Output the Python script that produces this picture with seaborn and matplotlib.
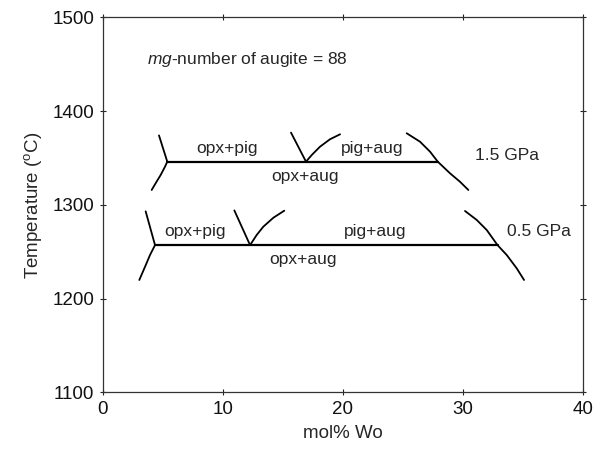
import pandas as pd
import matplotlib
matplotlib.use("Agg")
import matplotlib.pyplot as plt
import seaborn as sns

# values (x = mol% Wo, y = temperature in C)
tie_15_x = [5.38, 27.92]
tie_15_y = [1346, 1346]
tie_05_x = [4.36, 32.9]
tie_05_y = [1257, 1257]

# 1.5 GPa boundaries
b15_left_up_x = [4.69, 5.38]
b15_left_up_y = [1374, 1346]
b15_left_lo_x = [5.38, 5.19, 4.83, 4.44, 4.08]
b15_left_lo_y = [1346, 1340.6, 1331.8, 1323.6, 1315.8]
b15_v_left_x = [15.69, 16.94]
b15_v_left_y = [1377, 1346]
b15_v_right_x = [16.94, 17.42, 18.11, 18.94, 19.78]
b15_v_right_y = [1346, 1353.1, 1362, 1369.9, 1375.2]
b15_right_x = [25.33, 26.44, 27.28, 27.92, 28.94, 29.77, 30.47]
b15_right_y = [1376.3, 1367.3, 1356.6, 1346, 1333.6, 1324.6, 1315.8]

# 0.5 GPa boundaries
b05_left_up_x = [3.58, 4.36]
b05_left_up_y = [1293, 1257]
b05_left_lo_x = [4.36, 3.94, 3.53, 3.05]
b05_left_lo_y = [1257, 1246.4, 1234, 1219.8]
b05_v_left_x = [10.97, 12.28]
b05_v_left_y = [1294, 1257]
b05_v_right_x = [12.28, 12.83, 13.38, 14.22, 15.13]
b05_v_right_y = [1257, 1267.8, 1276.6, 1286.2, 1293.7]
b05_right_x = [30.19, 31.17, 32.0, 32.9, 33.67, 34.5, 35.11]
b05_right_y = [1293.4, 1283.8, 1273.1, 1257, 1246.4, 1232.2, 1219.8]

x_ticks = [0, 10, 20, 30, 40]
y_ticks = [1100, 1200, 1300, 1400, 1500]

sns.set_style("ticks")
plt.rcParams['font.family'] = ['Liberation Sans', 'DejaVu Sans']
plt.rcParams['mathtext.fontset'] = 'custom'
plt.rcParams['mathtext.rm'] = 'Liberation Sans'
plt.rcParams['mathtext.it'] = 'Liberation Sans:italic'

def frame(xs, ys, name):
    return pd.DataFrame({'x': xs, 'y': ys, 'seg': name})

ties = pd.concat([frame(tie_15_x, tie_15_y, 't15'),
                  frame(tie_05_x, tie_05_y, 't05')])
bounds = pd.concat([
    frame(b15_left_up_x, b15_left_up_y, 'a'),
    frame(b15_left_lo_x, b15_left_lo_y, 'b'),
    frame(b15_v_left_x, b15_v_left_y, 'c'),
    frame(b15_v_right_x, b15_v_right_y, 'd'),
    frame(b15_right_x, b15_right_y, 'e'),
    frame(b05_left_up_x, b05_left_up_y, 'f'),
    frame(b05_left_lo_x, b05_left_lo_y, 'g'),
    frame(b05_v_left_x, b05_v_left_y, 'h'),
    frame(b05_v_right_x, b05_v_right_y, 'i'),
    frame(b05_right_x, b05_right_y, 'j'),
])

fig = plt.figure(figsize=(6.02, 4.5), dpi=100)
ax = fig.add_axes([0.1706, 0.1282, 0.7974, 0.8334])

sns.lineplot(data=ties, x='x', y='y', units='seg', estimator=None, sort=False,
             color='black', linewidth=1.6, ax=ax)
sns.lineplot(data=bounds, x='x', y='y', units='seg', estimator=None, sort=False,
             color='black', linewidth=1.3, ax=ax)

ax.set_xlim(0, 40)
ax.set_ylim(1100, 1500)
ax.set_xticks(x_ticks)
ax.set_yticks(y_ticks)
ax.tick_params(direction='inout', length=5, width=0.8, labelsize=13.5,
               top=True, right=True, colors='#222222', labelcolor='#111111')
for s in ax.spines.values():
    s.set_linewidth(0.9)
    s.set_color('#333333')

ax.set_xlabel("mol% Wo", fontsize=13.5, labelpad=5)
ax.set_ylabel(r"Temperature ($^{\mathrm{o}}$C)", fontsize=13.5, labelpad=6)

fs = 12.5
ax.text(3.7, 1454.5, r"$\mathit{mg}$-number of augite = 88", fontsize=fs, va='center', ha='left')
ax.text(10.33, 1360.3, "opx+pig", fontsize=fs, ha='center', va='center')
ax.text(16.86, 1330, "opx+aug", fontsize=fs, ha='center', va='center')
ax.text(22.42, 1360.3, "pig+aug", fontsize=fs, ha='center', va='center')
ax.text(31.02, 1353, "1.5 GPa", fontsize=fs, ha='left', va='center')
ax.text(7.69, 1271.3, "opx+pig", fontsize=fs, ha='center', va='center')
ax.text(16.72, 1241.9, "opx+aug", fontsize=fs, ha='center', va='center')
ax.text(22.69, 1271.3, "pig+aug", fontsize=fs, ha='center', va='center')
ax.text(33.67, 1271.3, "0.5 GPa", fontsize=fs, ha='left', va='center')

plt.savefig("out.png", dpi=100)
